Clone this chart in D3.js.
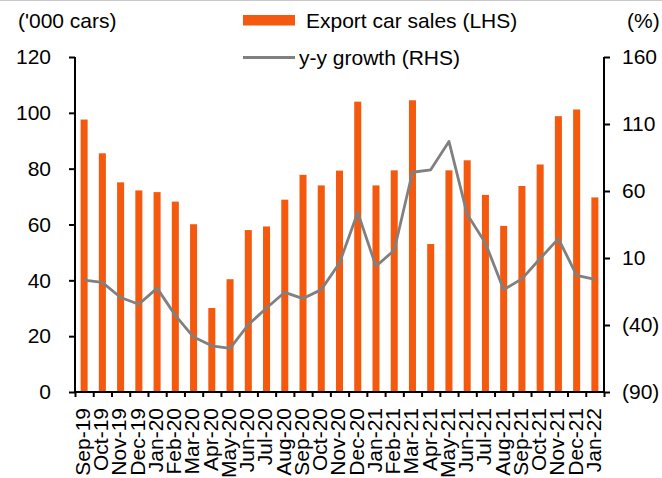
<!DOCTYPE html>
<html>
<head>
<meta charset="utf-8">
<script src="https://cdn.jsdelivr.net/npm/d3@7"></script>
<style>
  body { margin: 0; background: #fff; }
  svg { display: block; font-family: "Liberation Sans", Arial, sans-serif; }
</style>
</head>
<body>
<div id="chart"></div>
<script>
var months = ["Sep-19","Oct-19","Nov-19","Dec-19","Jan-20","Feb-20","Mar-20","Apr-20","May-20","Jun-20",
  "Jul-20","Aug-20","Sep-20","Oct-20","Nov-20","Dec-20","Jan-21","Feb-21","Mar-21","Apr-21",
  "May-21","Jun-21","Jul-21","Aug-21","Sep-21","Oct-21","Nov-21","Dec-21","Jan-22"];
// export car sales, '000 cars (LHS)
var exportSales = [97.6, 85.5, 75.1, 72.2, 71.6, 68.2, 60.1, 30.1, 40.4, 58.0,
  59.3, 68.9, 77.8, 74.0, 79.3, 104.0, 74.0, 79.4, 104.5, 53.0,
  79.4, 83.0, 70.6, 59.5, 73.8, 81.5, 98.8, 101.2, 69.7];
// y-y growth, % (RHS)
var yyGrowth = [-6.5, -8.2, -19.5, -24.5, -12.5, -32.8, -49.0, -55.5, -57.5, -39.8,
  -27.3, -15.6, -20.3, -13.6, 6.3, 44.0, 3.8, 15.8, 74.0, 75.8,
  97.0, 42.6, 21.1, -13.6, -5.6, 9.6, 24.5, -3.0, -5.9];
var leftTicks = [0, 20, 40, 60, 80, 100, 120];
var rightTicks = [-90, -40, 10, 60, 110, 160];

var width = 662, height = 478;
var x0 = 75, x1 = 604, yTop = 57, yBot = 392;
var fontSize = 21;

var svg = d3.select("#chart").append("svg")
  .attr("width", width)
  .attr("height", height);

// thin grey border at the very top of the picture
svg.append("line")
  .attr("x1", 0).attr("x2", width).attr("y1", 0.5).attr("y2", 0.5)
  .attr("stroke", "#c8c8c8").attr("stroke-width", 1);

var x = d3.scaleBand()
  .domain(months)
  .range([x0, x1])
  .paddingInner(0.615)
  .paddingOuter(0.3075);
var step = x.step();

var yL = d3.scaleLinear().domain([0, 120]).range([yBot, yTop]);
var yR = d3.scaleLinear().domain([-90, 160]).range([yBot, yTop]);

// bars
svg.append("g")
  .selectAll("rect")
  .data(exportSales)
  .enter()
  .append("rect")
    .attr("x", function (d, i) { return x(months[i]); })
    .attr("y", function (d) { return yL(d); })
    .attr("width", x.bandwidth())
    .attr("height", function (d) { return yBot - yL(d); })
    .attr("fill", "#f4590e");

// growth line
var line = d3.line()
  .x(function (d, i) { return x(months[i]) + x.bandwidth() / 2; })
  .y(function (d) { return yR(d); });
svg.append("path")
  .datum(yyGrowth)
  .attr("d", line)
  .attr("fill", "none")
  .attr("stroke", "#808080")
  .attr("stroke-width", 2.8)
  .attr("stroke-linejoin", "round");

// left axis
var leftAxis = svg.append("g")
  .attr("transform", "translate(" + x0 + ",0)")
  .call(d3.axisLeft(yL).tickValues(leftTicks).tickSize(6).tickPadding(18));
// right axis
var fmtR = function (d) { return d < 0 ? "(" + Math.abs(d) + ")" : String(d); };
var rightAxis = svg.append("g")
  .attr("transform", "translate(" + x1 + ",0)")
  .call(d3.axisRight(yR).tickValues(rightTicks).tickSize(6).tickPadding(12).tickFormat(fmtR));
// bottom axis, ticks on category boundaries
var boundaries = d3.range(months.length + 1).map(function (i) { return x0 + i * step; });
var xb = d3.scaleLinear().domain([x0, x1]).range([x0, x1]);
var bottomAxis = svg.append("g")
  .attr("transform", "translate(0," + yBot + ")")
  .call(d3.axisBottom(xb).tickValues(boundaries).tickSize(5).tickFormat(""));

[leftAxis, rightAxis, bottomAxis].forEach(function (g) {
  g.select(".domain").attr("stroke", "#000").attr("stroke-width", 2);
  g.selectAll(".tick line").attr("stroke", "#000").attr("stroke-width", 2);
  g.selectAll("text")
    .attr("font-size", fontSize)
    .attr("font-family", "'Liberation Sans', Arial, sans-serif")
    .attr("fill", "#000");
});
leftAxis.select(".domain").attr("d", "M0," + yTop + "V" + yBot);
rightAxis.select(".domain").attr("d", "M0," + yTop + "V" + yBot);
bottomAxis.select(".domain").attr("d", "M" + (x0 - 1) + ",0H" + (x1 + 1));

// category labels, rotated
svg.append("g")
  .selectAll("text")
  .data(months)
  .enter()
  .append("text")
    .attr("transform", function (d) {
      return "translate(" + (x(d) + x.bandwidth() / 2) + ",408) rotate(-90)";
    })
    .attr("dy", "0.28em")
    .attr("text-anchor", "end")
    .attr("font-size", fontSize)
    .attr("fill", "#000")
    .text(function (d) { return d; });

// unit titles
svg.append("text")
  .attr("x", 18).attr("y", 28)
  .attr("font-size", fontSize)
  .text("('000 cars)");
svg.append("text")
  .attr("x", 627).attr("y", 28)
  .attr("font-size", fontSize)
  .text("(%)");

// legend
var legend = svg.append("g");
legend.append("rect")
  .attr("x", 243).attr("y", 15).attr("width", 52).attr("height", 10.5)
  .attr("fill", "#f4590e");
legend.append("text")
  .attr("x", 306).attr("y", 28)
  .attr("font-size", fontSize)
  .text("Export car sales (LHS)");
legend.append("line")
  .attr("x1", 243).attr("x2", 295).attr("y1", 57.5).attr("y2", 57.5)
  .attr("stroke", "#808080").attr("stroke-width", 2.8);
legend.append("text")
  .attr("x", 299).attr("y", 65)
  .attr("font-size", fontSize)
  .text("y-y growth (RHS)");
</script>
</body>
</html>
